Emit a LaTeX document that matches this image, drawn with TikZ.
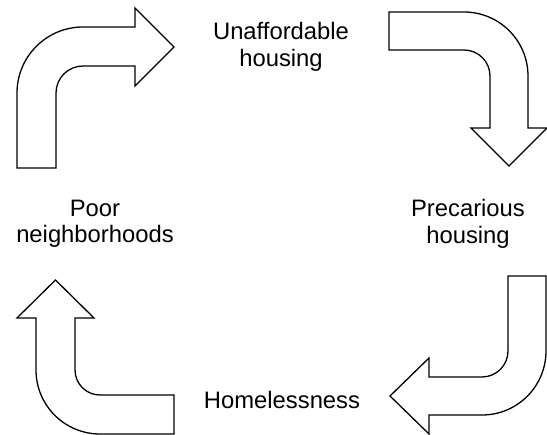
\documentclass[tikz,border=0pt]{standalone}
\usepackage{fontspec}
\setmainfont{Liberation Sans}
\begin{document}
\begin{tikzpicture}[x=1pt,y=-1pt,
  bentarrow/.style={draw=black, fill=white, line width=1.3pt, line join=miter},
  label/.style={align=center, inner sep=0pt, font=\fontsize{23.8}{26.5}\selectfont}]
\useasboundingbox (0,0) rectangle (547,435);

% top-left arrow: up then right
\draw[bentarrow] (17,168) -- (17,93) arc[start angle=180, end angle=270, radius=66]
  -- (135,27) -- (135,8) -- (174,47) -- (135,86) -- (135,66) -- (83,66)
  arc[start angle=270, end angle=180, radius=27] -- (56,168) -- cycle;

% top-right arrow: right then down
\draw[bentarrow] (389,12) -- (464,12) arc[start angle=270, end angle=360, radius=64]
  -- (528,128) -- (547,128) -- (509,166) -- (471,128) -- (490,128) -- (490,76)
  arc[start angle=0, end angle=-90, radius=26] -- (389,50) -- cycle;

% bottom-right arrow: down then left
\draw[bentarrow] (508,276) -- (546,276) -- (546,351) arc[start angle=0, end angle=90, radius=64]
  -- (429,415) -- (429,434) -- (390,396) -- (429,358) -- (429,377) -- (482,377)
  arc[start angle=90, end angle=0, radius=26] -- cycle;

% bottom-left arrow: left then up
\draw[bentarrow] (174,395) -- (100,395) arc[start angle=90, end angle=180, radius=25]
  -- (75,318) -- (94,318) -- (55.5,280) -- (17,318) -- (36,318) -- (36,370)
  arc[start angle=180, end angle=90, radius=64] -- (174,434) -- cycle;

\node[label] (unaff) at (281,47) {Unaffordable\\housing};
\node[label] (prec) at (468,224) {Precarious\\housing};
\node[label] (home) at (282,400) {Homelessness};
\node[label] (poor) at (95,224) {Poor\\neighborhoods};
\end{tikzpicture}
\end{document}
